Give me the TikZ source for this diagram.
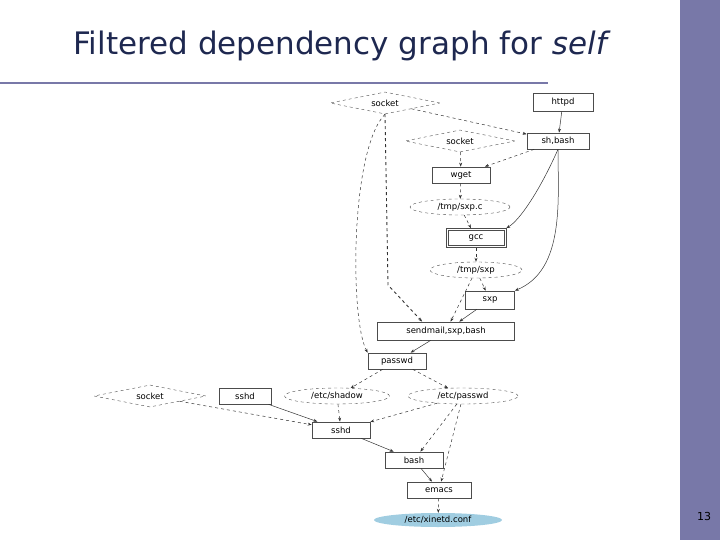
\documentclass[tikz,border=0pt]{standalone}
\usepackage{fontspec}
\setmainfont{DejaVu Sans}
\usetikzlibrary{shapes.geometric,arrows.meta}
\begin{document}
\begin{tikzpicture}[x=1pt,y=-1pt,
  every node/.style={font=\fontsize{8.5}{9}\selectfont, inner sep=0pt},
  bx/.style={draw=black!70, line width=0.7pt, rectangle, minimum height=16pt},
  el/.style={draw=black!70, dashed, ellipse, minimum height=16pt},
  dm/.style={draw=black!70, dashed, diamond, aspect=5, minimum height=22pt},
  e/.style={-{Stealth[length=4pt,width=3pt]}, line width=0.5pt, draw=black!80},
  d/.style={e, dashed}]
\useasboundingbox (0,0) rectangle (720,540);
\fill[fill={rgb,255:red,120;green,120;blue,168}] (680,0) rectangle (720,540);
\draw[line width=1.2pt, color={rgb,255:red,120;green,120;blue,168}] (0,83) -- (548,83);
\node[font=\fontsize{31}{34}\selectfont, text={rgb,255:red,30;green,40;blue,80}] (title) at (342,46) {Filtered dependency graph for \textit{self}};
\node[font=\fontsize{11}{12}\selectfont] (pg) at (704,516) {13};
% nodes
\node[dm, minimum width=110pt] (s1) at (385,103) {socket};
\node[bx, minimum width=60pt, minimum height=18pt] (httpd) at (563,102) {httpd};
\node[dm, minimum width=110pt] (s2) at (460,141) {socket};
\node[bx, minimum width=62pt] (sh) at (558,141) {sh,bash};
\node[bx, minimum width=58pt] (wget) at (461,175) {wget};
\node[el, minimum width=100pt] (sxpc) at (460,207) {/tmp/sxp.c};
\node[bx, minimum width=60pt, minimum height=19pt] (gcc) at (476,238) {gcc};
\draw[draw=black!70, line width=0.5pt] ([shift={(2.5,2.5)}]gcc.north west) rectangle ([shift={(-2.5,-2.5)}]gcc.south east);
\node[el, minimum width=92pt] (tsxp) at (476,270) {/tmp/sxp};
\node[bx, minimum width=49pt, minimum height=18pt] (sxp) at (490,300) {sxp};
\node[bx, minimum width=137pt, minimum height=18pt] (send) at (446,331) {sendmail,sxp,bash};
\node[bx, minimum width=58pt] (pw) at (397,361) {passwd};
\node[dm, minimum width=112pt] (s3) at (150,396) {socket};
\node[bx, minimum width=52pt] (sshd1) at (245,396) {sshd};
\node[el, minimum width=105pt] (shadow) at (337,396) {/etc/shadow};
\node[el, minimum width=110pt] (epw) at (463,396) {/etc/passwd};
\node[bx, minimum width=58pt] (sshd2) at (341,430) {sshd};
\node[bx, minimum width=58pt] (bash) at (414,460) {bash};
\node[bx, minimum width=64pt] (emacs) at (439,490) {emacs};
\node[ellipse, fill={rgb,255:red,160;green,205;blue,225}, minimum width=128pt, minimum height=14pt] (xin) at (438,520) {/etc/xinetd.conf};
\coordinate (bend) at (388,285);
% edges
\draw[d] (s1) -- (sh);
\draw[e] (httpd) -- (sh);
\draw[d, line width=0.9pt] (s1.south) -- (bend) -- ([xshift=45pt]send.north west);
\draw[d] (s1.south) .. controls (350,150) and (350,320) .. (pw.north west);
\draw[d] (s2) -- (wget);
\draw[d] (sh) -- (wget);
\draw[e] (sh.south) .. controls (540,190) and (520,220) .. (gcc.north east);
\draw[e] (sh.south) .. controls (558,200) and (565,270) .. (sxp.north east);
\draw[d] (wget) -- (sxpc);
\draw[d] (sxpc) -- (gcc);
\draw[d, line width=0.9pt] (gcc) -- (tsxp);
\draw[d] (tsxp) -- (sxp);
\draw[d] (tsxp) -- (send);
\draw[e] (sxp) -- (send);
\draw[e] (send) -- (pw);
\draw[d] (pw) -- (shadow);
\draw[d] (pw) -- (epw);
\draw[d] (s3) -- (sshd2);
\draw[e] (sshd1) -- (sshd2);
\draw[d] (shadow) -- (sshd2);
\draw[d] (epw) -- (sshd2);
\draw[e] (sshd2) -- (bash);
\draw[d] (epw) -- (bash);
\draw[d] (epw) -- (emacs);
\draw[e] (bash) -- (emacs);
\draw[d] (emacs) -- (xin);
\end{tikzpicture}
\end{document}
